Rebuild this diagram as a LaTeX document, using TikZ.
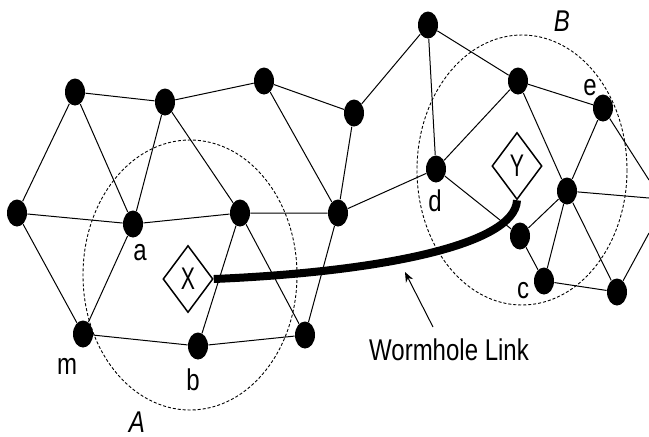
\documentclass[tikz,border=0pt]{standalone}
\usepackage{fontspec}
\setmainfont{Liberation Sans}
\usetikzlibrary{shapes.geometric,arrows.meta}
\newcommand{\tall}[1]{\scalebox{1}[1.25]{#1}}
\newcommand{\narrowtall}[1]{\scalebox{0.85}[1.25]{#1}}
\tikzset{
  dot/.style={ellipse,fill=black,minimum width=10pt,minimum height=13.5pt,inner sep=0pt},
  attacker/.style={diamond,draw,line width=0.75pt,minimum width=25pt,minimum height=33.5pt,inner sep=0pt,font=\fontsize{12.5}{12.5}\selectfont},
  lbl/.style={font=\fontsize{12}{12}\selectfont},
  region/.style={font=\fontsize{12}{12}\selectfont\itshape},
  link/.style={line width=0.5pt},
  radiorange/.style={line width=0.45pt,dash pattern=on 1.5pt off 1pt}
}
\begin{document}
\begin{tikzpicture}[x=0.5pt,y=-0.5pt]
\useasboundingbox (0,0) rectangle (649,436);
\draw[radiorange] (190,275) ellipse [x radius=107,y radius=135];
\draw[radiorange] (522,170) ellipse [x radius=105,y radius=135];
\node[dot] (p1) at (17,213) {};
\node[dot] (p2) at (75,92) {};
\node[dot] (p3) at (165,102) {};
\node[dot] (p4) at (264,81) {};
\node[dot] (a) at (133,224) {};
\node[dot] (p5) at (240,213) {};
\node[dot] (p6) at (338,213) {};
\node[dot] (p7) at (354,113) {};
\node[dot] (p8) at (428,25) {};
\node[dot] (p9) at (518,81) {};
\node[dot] (e) at (603,108) {};
\node[dot] (d) at (436,169) {};
\node[dot] (p10) at (567,191) {};
\node[dot] (p11) at (520,236) {};
\node[dot] (c) at (544,281) {};
\node[dot] (p12) at (617,292) {};
\node[dot] (m) at (83,334) {};
\node[dot] (b) at (198,346) {};
\node[dot] (p13) at (305,335) {};
\coordinate (r1) at (649,180);
\coordinate (r2) at (649,198);
\coordinate (r3) at (649,233);
\draw[link] (p1)--(p2) (p1)--(a) (p1)--(m);
\draw[link] (p2)--(p3) (p2)--(a);
\draw[link] (p3)--(a) (p3)--(p5) (p3)--(p4);
\draw[link] (p4)--(p7) (p4)--(p6);
\draw[link] (a)--(p5) (a)--(m);
\draw[link] (p5)--(p6) (p5)--(b) (p5)--(p13);
\draw[link] (p6)--(p13) (p6)--(p7) (p6)--(d);
\draw[link] (p7)--(p8);
\draw[link] (p8)--(d) (p8)--(p9);
\draw[link] (p9)--(d) (p9)--(e) (p9)--(p10);
\draw[link] (e)--(p10) (e)--(r1);
\draw[link] (d)--(p11);
\draw[link] (p10)--(p11) (p10)--(c) (p10)--(p12) (p10)--(r2);
\draw[link] (p11)--(c) (c)--(p12) (p12)--(r3);
\draw[link] (m)--(b) (b)--(p13);
\node[attacker] (X) at (188,279) {\narrowtall{X}};
\node[attacker] (Y) at (517,166) {\narrowtall{Y}};
\draw[line width=4pt] (X.east) .. controls (380,272) and (515,245) .. (Y.south);
\node[lbl] (wl) at (449,350) {\tall{Wormhole Link}};
\coordinate (tail) at (433,327);
\coordinate (tip) at (405,272);
\draw[link,-{Stealth[length=5pt,width=4pt]}] (tail)--(tip);
\node[lbl] (la) at (140,253) {\tall{a}};
\node[lbl] (lm) at (67,366) {\tall{m}};
\node[lbl] (lb) at (193,380) {\tall{b}};
\node[lbl] (ld) at (435,201) {\tall{d}};
\node[lbl] (lc) at (523,291) {\tall{c}};
\node[lbl] (le) at (590,88) {\tall{e}};
\node[region] (lA) at (137,422) {\tall{A}};
\node[region] (lB) at (562,21) {\tall{B}};
\end{tikzpicture}
\end{document}
